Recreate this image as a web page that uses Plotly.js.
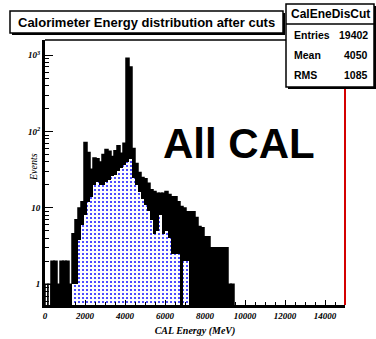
<!DOCTYPE html>
<html>
<head>
<meta charset="utf-8">
<script src="https://cdn.plot.ly/plotly-3.0.1.min.js"></script>
<style>
  html, body { margin: 0; padding: 0; background: #fff; }
  #chart { width: 376px; height: 339px; }
</style>
</head>
<body>
<div id="chart"></div>
<script>
// Calorimeter energy histograms, 150 MeV bins starting at 0 MeV
const binWidth = 150;
const binStart = 0;

// all events passing cuts (black)
const allCounts = [
  1, 1, 2, 2, 1, 2, 2, 2, 1, 4.6,
  7, 10, 12, 72, 53, 32, 45, 44, 40, 50,
  58, 55, 47, 56, 65, 52, 70, 910, 700, 60,
  38, 29, 25, 24, 21, 17.3, 16.4, 15.5, 15.6, 15.6,
  16.4, 15, 14, 14, 12, 10.4, 10, 8.9, 8.9, 8.9,
  7.5, 5.7, 5.5, 4.2, 4.2, 3, 3, 3, 3, 3,
  3, 1, 1
];

// selected subsample (blue dotted)
const cutCounts = [
  0, 0, 0, 0, 0, 0, 0, 0, 0, 1,
  1, 3.8, 6, 8, 12, 14, 20, 22, 20, 20,
  22, 23, 26, 27, 30, 33, 36, 40, 44, 25,
  20, 16, 13, 11, 9, 7, 4.5, 5, 8, 4.6,
  5, 4, 2.5, 2.5, 2.5, 0, 2, 2
];

const xTickVals = [0, 2000, 4000, 6000, 8000, 10000, 12000, 14000];
const yTickVals = [1, 10, 100, 1000];
const yTickText = ['1', '10', '10<sup>2</sup>', '10<sup>3</sup>'];

const titleText = 'Calorimeter Energy distribution after cuts';
const statsName = 'CalEneDisCut';
const statsRows = [['Entries', '19402'], ['Mean', '4050'], ['RMS', '1085']];
const labelText = 'All CAL';
const xTitle = 'CAL Energy (MeV)';
const yTitle = 'Events';

// ---- helpers ----
const centers = arr => arr.map((_, i) => binStart + binWidth * (i + 0.5));
const W = 376, H = 339;
const M = { l: 45, r: 31, t: 40, b: 34 };
const PW = W - M.l - M.r, PH = H - M.t - M.b;
const px = x => (x - M.l) / PW;          // pixel -> paper x
const py = y => (H - M.b - y) / PH;      // pixel -> paper y

// minor ticks of the log axis: 2..9 in every decade
const minorY = [];
for (let d = -1; d <= 3; d++) {
  for (let k = 2; k <= 9; k++) minorY.push(k * Math.pow(10, d));
}

const serifFamily = 'Liberation Serif, Times New Roman, serif';
const serif = { family: serifFamily, size: 9, color: '#000', style: 'italic', weight: 'bold' };
const sans = 'Liberation Sans, Arial, sans-serif';

const traces = [
  {
    type: 'bar',
    x: centers(allCounts),
    y: allCounts,
    width: binWidth,
    marker: {
      color: allCounts.map((_, i) => (i < 2 ? '#fff' : '#000')),
      line: { color: '#000', width: 1.5 }
    },
    hoverinfo: 'x+y'
  },
  {
    type: 'bar',
    x: centers(cutCounts),
    y: cutCounts,
    width: binWidth,
    marker: {
      color: '#fff',
      pattern: { shape: '.', fgcolor: '#2020ff', bgcolor: '#ffffff', size: 4, solidity: 0.22 },
      line: { width: 0 }
    },
    hoverinfo: 'x+y'
  }
];

const shapes = [
  // top frame
  { type: 'line', xref: 'paper', yref: 'paper', x0: 0, x1: 1, y0: 1, y1: 1, line: { color: '#000', width: 1.5 } },
  // right frame
  { type: 'line', xref: 'paper', yref: 'paper', x0: 1, x1: 1, y0: 0, y1: 1, line: { color: '#d40000', width: 2 } },
  // title box shadow + box
  { type: 'rect', xref: 'paper', yref: 'paper', x0: px(12), x1: px(285), y0: py(35), y1: py(13), fillcolor: '#000', line: { width: 0 } },
  { type: 'rect', xref: 'paper', yref: 'paper', x0: px(10), x1: px(283), y0: py(33), y1: py(11), fillcolor: '#fff', line: { color: '#000', width: 1.5 } },
  // stats box shadow + box
  { type: 'rect', xref: 'paper', yref: 'paper', x0: px(288), x1: px(378), y0: py(89), y1: py(6), fillcolor: '#000', line: { width: 0 } },
  { type: 'rect', xref: 'paper', yref: 'paper', x0: px(286), x1: px(374), y0: py(87), y1: py(4), fillcolor: '#fff', line: { color: '#000', width: 1.5 } },
  { type: 'line', xref: 'paper', yref: 'paper', x0: px(286), x1: px(374), y0: py(24), y1: py(24), line: { color: '#000', width: 1.5 } }
];

const annotations = [
  { text: titleText, xref: 'paper', yref: 'paper', x: px(146.5), y: py(22), showarrow: false,
    font: { family: sans, size: 13, color: '#000', weight: 'bold' }, xanchor: 'center', yanchor: 'middle' },
  { text: statsName, xref: 'paper', yref: 'paper', x: px(330), y: py(14), showarrow: false,
    font: { family: sans, size: 12, color: '#000', weight: 'bold' }, xanchor: 'center', yanchor: 'middle' },
  { text: labelText, xref: 'paper', yref: 'paper', x: px(239), y: py(143), showarrow: false,
    font: { family: sans, size: 42, color: '#000', weight: 'bold' }, xanchor: 'center', yanchor: 'middle' },
  // y axis title, rotated, close to the tick labels
  { text: yTitle, xref: 'paper', yref: 'paper', x: px(33), y: py(167), showarrow: false, textangle: -90,
    font: { family: serifFamily, size: 10, color: '#000', style: 'italic' }, xanchor: 'center', yanchor: 'middle' }
];
statsRows.forEach((row, i) => {
  const y = py(35 + i * 20);
  annotations.push({ text: row[0], xref: 'paper', yref: 'paper', x: px(292), y: y, showarrow: false,
    font: { family: sans, size: 10.5, color: '#000', weight: 'bold' }, xanchor: 'left', yanchor: 'middle' });
  annotations.push({ text: row[1], xref: 'paper', yref: 'paper', x: px(370), y: y, showarrow: false,
    font: { family: sans, size: 10.5, color: '#000', weight: 'bold' }, xanchor: 'right', yanchor: 'middle' });
});

const layout = {
  width: W, height: H,
  margin: M,
  paper_bgcolor: '#fff', plot_bgcolor: '#fff',
  showlegend: false,
  barmode: 'overlay', bargap: 0,
  xaxis: {
    range: [0, 15000],
    tickvals: xTickVals, tickformat: 'd',
    ticks: 'inside', ticklen: 5, tickwidth: 1, tickcolor: '#000',
    minor: { dtick: 500, tick0: 0, ticks: 'inside', ticklen: 3, tickwidth: 1, tickcolor: '#000', showgrid: false },
    showline: true, linewidth: 3, linecolor: '#000',
    showgrid: false, zeroline: false,
    tickfont: serif,
    title: { text: xTitle, font: { family: serifFamily, size: 10, color: '#000', style: 'italic', weight: 'bold' }, standoff: 8 }
  },
  yaxis: {
    type: 'log',
    range: [-0.271, 3.198],
    tickvals: yTickVals, ticktext: yTickText,
    ticks: 'inside', ticklen: 8, tickwidth: 1, tickcolor: '#000',
    minor: { tickvals: minorY, ticks: 'inside', ticklen: 4, tickwidth: 1, tickcolor: '#000', showgrid: false },
    showline: true, linewidth: 3, linecolor: '#000',
    showgrid: false, zeroline: false,
    tickfont: serif
  },
  shapes: shapes,
  annotations: annotations
};

Plotly.newPlot('chart', traces, layout, { staticPlot: true, displayModeBar: false });
</script>
</body>
</html>
